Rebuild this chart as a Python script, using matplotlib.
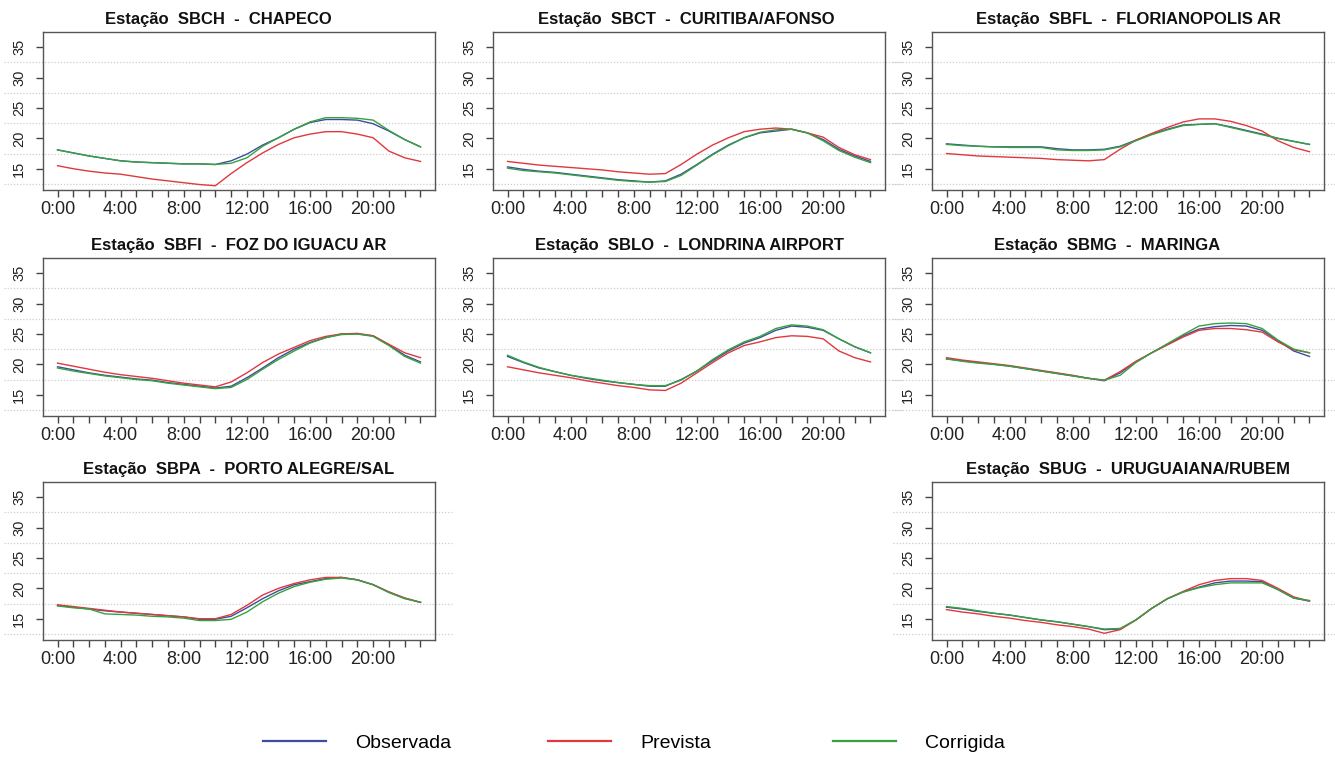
import numpy as np
import matplotlib
matplotlib.use("Agg")
import matplotlib.pyplot as plt

plt.rcParams['font.family'] = ['Liberation Sans', 'DejaVu Sans']

horas = np.arange(24)
rotulos = [f"{h}:00" if h % 4 == 0 else "" for h in horas]

# nomes com largura fixa (16 caracteres), como no original
codigos = ["SBCH", "SBCT", "SBFL", "SBFI", "SBLO", "SBMG", "SBPA", "SBUG"]
nomes = ["CHAPECO", "CURITIBA/AFONSO", "FLORIANOPOLIS AR", "FOZ DO IGUACU AR",
         "LONDRINA AIRPORT", "MARINGA", "PORTO ALEGRE/SAL", "URUGUAIANA/RUBEM"]
estacoes = [f"Estação  {c}  -  {n:<16s}" for c, n in zip(codigos, nomes)]

# temperaturas horarias (0h..23h)
obs_sbch = [18.1, 17.6, 17.1, 16.7, 16.3, 16.1, 16.0, 15.9, 15.8, 15.8, 15.7, 16.3, 17.4, 18.9,
            20.1, 21.5, 22.6, 23.1, 23.1, 23.0, 22.4, 21.2, 19.8, 18.6]
prev_sbch = [15.5, 15.0, 14.6, 14.3, 14.1, 13.7, 13.3, 13.0, 12.7, 12.4, 12.2, 14.2, 16.0, 17.6,
             19.0, 20.1, 20.7, 21.1, 21.1, 20.7, 20.1, 17.9, 16.8, 16.2]
corr_sbch = [18.1, 17.6, 17.1, 16.7, 16.3, 16.1, 16.0, 15.9, 15.8, 15.8, 15.7, 15.9, 16.8, 18.7,
             20.1, 21.5, 22.7, 23.4, 23.4, 23.3, 23.0, 21.3, 19.8, 18.6]

obs_sbct = [15.3, 14.9, 14.6, 14.4, 14.1, 13.8, 13.5, 13.2, 13.0, 12.8, 13.0, 14.1, 15.7, 17.4,
            18.9, 20.1, 20.9, 21.2, 21.5, 20.9, 19.8, 18.2, 17.1, 16.2]
prev_sbct = [16.2, 15.9, 15.6, 15.4, 15.2, 15.0, 14.8, 14.5, 14.3, 14.1, 14.2, 15.7, 17.4, 18.9,
             20.1, 21.1, 21.5, 21.7, 21.5, 20.9, 20.2, 18.5, 17.3, 16.5]
corr_sbct = [15.1, 14.7, 14.5, 14.3, 14.0, 13.7, 13.4, 13.1, 12.9, 12.8, 12.9, 13.9, 15.6, 17.3,
             18.8, 20.1, 21.0, 21.4, 21.5, 20.9, 19.6, 18.0, 16.9, 16.0]

obs_sbfl = [19.1, 18.9, 18.7, 18.6, 18.6, 18.6, 18.6, 18.3, 18.1, 18.1, 18.2, 18.7, 19.7, 20.7,
            21.5, 22.2, 22.3, 22.4, 21.9, 21.3, 20.7, 20.0, 19.5, 19.0]
prev_sbfl = [17.5, 17.3, 17.1, 17.0, 16.9, 16.8, 16.7, 16.5, 16.4, 16.3, 16.5, 18.2, 19.7, 20.8,
             21.8, 22.7, 23.2, 23.2, 22.8, 22.1, 21.2, 19.6, 18.5, 17.8]
corr_sbfl = [19.0, 18.8, 18.7, 18.6, 18.5, 18.5, 18.5, 18.1, 18.0, 18.0, 18.1, 18.6, 19.6, 20.6,
             21.4, 22.1, 22.3, 22.4, 21.8, 21.2, 20.6, 20.0, 19.5, 19.0]

obs_sbfi = [19.6, 19.1, 18.6, 18.2, 17.9, 17.6, 17.4, 17.0, 16.7, 16.4, 16.1, 16.4, 17.8, 19.4,
            21.1, 22.5, 23.6, 24.4, 25.0, 25.0, 24.7, 23.2, 21.5, 20.4]
prev_sbfi = [20.2, 19.7, 19.2, 18.7, 18.3, 18.0, 17.7, 17.3, 16.9, 16.6, 16.3, 17.1, 18.6, 20.3,
             21.7, 22.8, 23.9, 24.6, 25.0, 25.1, 24.7, 23.3, 21.9, 21.1]
corr_sbfi = [19.4, 18.9, 18.5, 18.1, 17.8, 17.5, 17.3, 16.9, 16.6, 16.3, 16.0, 16.2, 17.5, 19.2,
             20.8, 22.2, 23.5, 24.4, 24.9, 25.0, 24.6, 23.1, 21.3, 20.2]

obs_sblo = [21.3, 20.3, 19.4, 18.8, 18.2, 17.7, 17.3, 17.0, 16.7, 16.4, 16.4, 17.5, 18.9, 20.6,
            22.2, 23.5, 24.4, 25.6, 26.3, 26.1, 25.6, 24.2, 22.9, 21.9]
prev_sblo = [19.6, 19.1, 18.6, 18.2, 17.8, 17.3, 16.9, 16.5, 16.2, 15.8, 15.7, 16.9, 18.6, 20.3,
             21.9, 23.1, 23.7, 24.4, 24.7, 24.6, 24.2, 22.2, 21.1, 20.4]
corr_sblo = [21.5, 20.4, 19.5, 18.8, 18.2, 17.8, 17.4, 17.0, 16.7, 16.5, 16.5, 17.4, 18.9, 20.8,
             22.4, 23.7, 24.6, 25.9, 26.5, 26.3, 25.7, 24.2, 22.9, 21.9]

obs_sbmg = [20.9, 20.6, 20.3, 20.0, 19.7, 19.3, 18.9, 18.5, 18.1, 17.7, 17.3, 18.6, 20.4, 21.9,
            23.3, 24.7, 25.8, 26.2, 26.4, 26.3, 25.6, 23.9, 22.2, 21.3]
prev_sbmg = [21.1, 20.7, 20.4, 20.1, 19.8, 19.4, 19.0, 18.6, 18.2, 17.7, 17.4, 18.8, 20.5, 21.9,
             23.2, 24.5, 25.6, 25.9, 25.9, 25.7, 25.3, 23.7, 22.4, 21.9]
corr_sbmg = [20.9, 20.5, 20.2, 20.0, 19.7, 19.3, 18.9, 18.5, 18.1, 17.7, 17.4, 18.2, 20.3, 21.9,
             23.4, 24.9, 26.3, 26.7, 26.8, 26.7, 25.9, 24.0, 22.5, 21.9]

obs_sbpa = [17.2, 16.9, 16.6, 16.3, 16.1, 15.9, 15.7, 15.5, 15.3, 14.9, 14.9, 15.4, 16.8, 18.3,
            19.6, 20.6, 21.1, 21.6, 21.8, 21.4, 20.6, 19.4, 18.4, 17.7]
prev_sbpa = [17.3, 17.0, 16.7, 16.4, 16.1, 15.9, 15.7, 15.5, 15.3, 15.0, 15.0, 15.7, 17.2, 18.9,
             20.0, 20.8, 21.4, 21.8, 21.8, 21.4, 20.6, 19.4, 18.4, 17.7]
corr_sbpa = [17.1, 16.8, 16.6, 15.8, 15.7, 15.6, 15.4, 15.3, 15.1, 14.7, 14.7, 14.9, 16.1, 17.8,
             19.2, 20.3, 21.0, 21.5, 21.7, 21.4, 20.6, 19.3, 18.3, 17.7]

obs_sbug = [16.9, 16.6, 16.2, 15.9, 15.6, 15.2, 14.8, 14.5, 14.1, 13.7, 13.2, 13.3, 14.8, 16.7,
            18.3, 19.4, 20.2, 20.9, 21.2, 21.2, 21.1, 19.8, 18.4, 17.9]
prev_sbug = [16.5, 16.1, 15.8, 15.4, 15.1, 14.7, 14.4, 14.0, 13.7, 13.3, 12.6, 13.2, 14.8, 16.7,
             18.3, 19.5, 20.6, 21.3, 21.6, 21.6, 21.3, 20.0, 18.6, 17.9]
corr_sbug = [17.0, 16.7, 16.3, 15.9, 15.6, 15.2, 14.8, 14.5, 14.1, 13.7, 13.3, 13.4, 14.8, 16.7,
             18.3, 19.4, 20.1, 20.6, 20.9, 20.9, 20.9, 19.8, 18.4, 18.0]

observada = [obs_sbch, obs_sbct, obs_sbfl, obs_sbfi, obs_sblo, obs_sbmg, obs_sbpa, obs_sbug]
prevista = [prev_sbch, prev_sbct, prev_sbfl, prev_sbfi, prev_sblo, prev_sbmg, prev_sbpa, prev_sbug]
corrigida = [corr_sbch, corr_sbct, corr_sbfl, corr_sbfi, corr_sblo, corr_sbmg, corr_sbpa, corr_sbug]

grade_y = [12.5, 17.5, 22.5, 27.5, 32.5]

series = ['Observada', 'Prevista', 'Corrigida']
cores = ['#3f4d9c', '#e0383e', '#36a23f']

fig = plt.figure(figsize=(13.35, 7.6), dpi=100)

# posicoes dos paineis (linha, coluna) - meio da ultima linha vazio
celulas = [(0, 0), (0, 1), (0, 2), (1, 0), (1, 1), (1, 2), (2, 0), (2, 2)]
esq = [43 / 1335, 493 / 1335, 932 / 1335]
base = [1 - 190 / 760, 1 - 416 / 760, 1 - 640 / 760]
larg, alt = 392 / 1335, 158 / 760

for i, (lin, col) in enumerate(celulas):
    ax = fig.add_axes([esq[col], base[lin], larg, alt])
    for g in grade_y:
        ax.plot([-3.4, 25.0], [g, g], color='#cccccc', lw=0.9, ls=(0, (1, 1.5)),
                clip_on=False, zorder=0)
    for dados, cor in zip([observada, prevista, corrigida], cores):
        ax.plot(horas, dados[i], color=cor, lw=1.0)
    ax.set_xlim(-0.92, 23.92)
    ax.set_ylim(11.5, 37.5)
    ax.set_xticks(horas)
    ax.set_xticklabels(rotulos)
    ax.set_yticks([15, 20, 25, 30, 35])
    ax.tick_params(axis='x', length=5, width=1, color='#444444', pad=3,
                   labelsize=13, labelcolor='#222222')
    ax.tick_params(axis='y', length=5, width=1, color='#444444', pad=7,
                   labelsize=10.5, labelcolor='#222222', labelrotation=90)
    for lb in ax.get_yticklabels():
        lb.set_va('center')
    for s in ax.spines.values():
        s.set_color('#555555')
        s.set_linewidth(1)
    ax.set_title(estacoes[i], fontsize=12, fontweight='bold', pad=6, color='#111111')

# legenda com colunas de largura igual
x_leg = [263 / 1335, 548 / 1335, 833 / 1335]
for nome, cor, x0 in zip(series, cores, x_leg):
    fig.legend([plt.Line2D([], [], color=cor, lw=1.6)], [nome],
               loc='center left', bbox_to_anchor=(x0, 1 - 743 / 760), frameon=False,
               fontsize=14, handlelength=3.25, handletextpad=1.5,
               borderpad=0, borderaxespad=0)

fig.savefig('out.png', dpi=100)
